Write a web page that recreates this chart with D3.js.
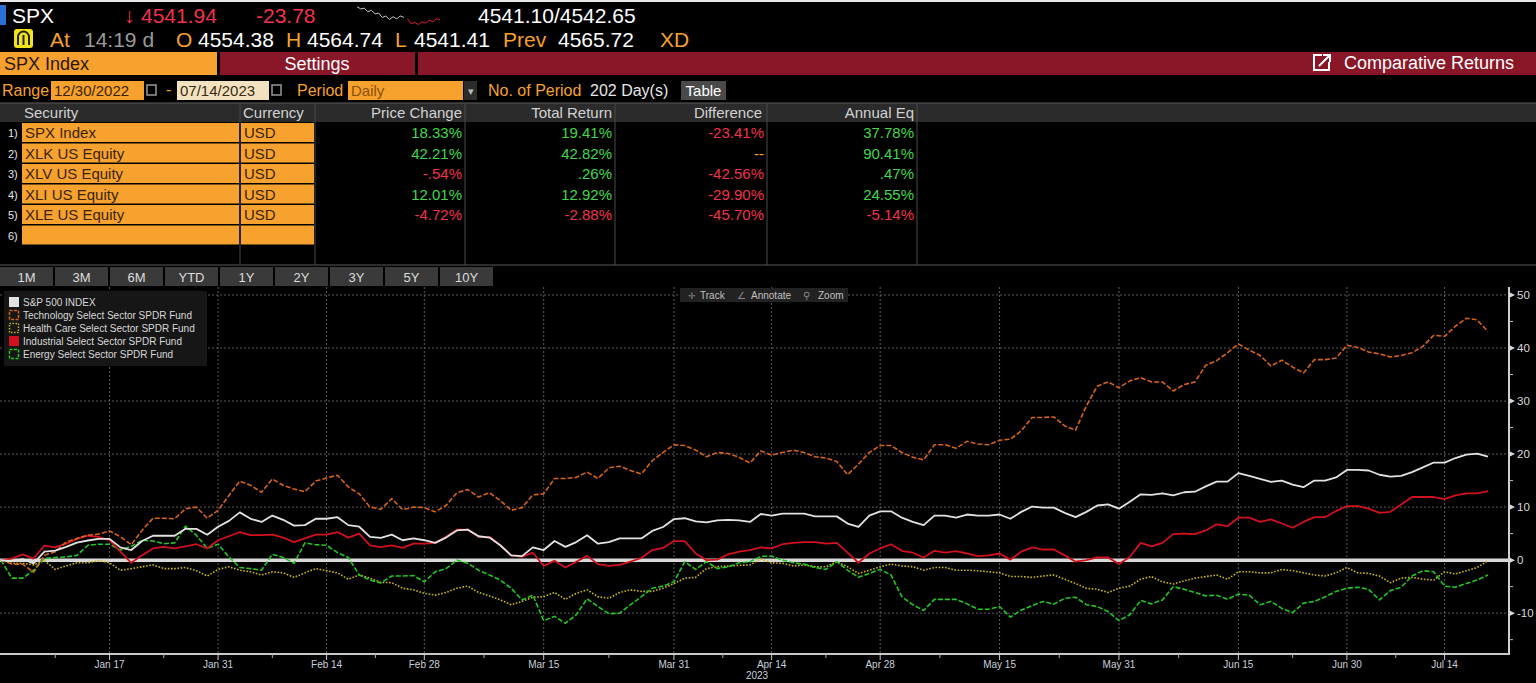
<!DOCTYPE html>
<html>
<head>
<meta charset="utf-8">
<script src="https://cdn.jsdelivr.net/npm/d3@7"></script>
<style>
  body { margin: 0; background: #000; overflow: hidden; }
  svg { display: block; font-family: "Liberation Sans", Arial, sans-serif; }
</style>
</head>
<body>
<svg id="screen" width="1536" height="683"></svg>
<script>
// Table data (Comparative Returns, 12/30/2022 - 07/14/2023)
const tickers = ["SPX Index", "XLK US Equity", "XLV US Equity", "XLI US Equity", "XLE US Equity"];
const currencies = ["USD", "USD", "USD", "USD", "USD"];
const priceChange = ["18.33%", "42.21%", "-.54%", "12.01%", "-4.72%"];
const totalReturn = ["19.41%", "42.82%", ".26%", "12.92%", "-2.88%"];
const difference = ["-23.41%", "--", "-42.56%", "-29.90%", "-45.70%"];
const annualEq = ["37.78%", "90.41%", ".47%", "24.55%", "-5.14%"];
const periodButtons = ["1M", "3M", "6M", "YTD", "1Y", "2Y", "3Y", "5Y", "10Y"];

// Legend names
const seriesNames = [
  "S&P 500 INDEX",
  "Technology Select Sector SPDR Fund",
  "Health Care Select Sector SPDR Fund",
  "Industrial Select Sector SPDR Fund",
  "Energy Select Sector SPDR Fund"
];

// x axis: trading day index of each labelled date
const dateTickLabels = ["Jan 17", "Jan 31", "Feb 14", "Feb 28", "Mar 15", "Mar 31", "Apr 14", "Apr 28", "May 15", "May 31", "Jun 15", "Jun 30", "Jul 14"];
const dateTickDays = [10, 20, 30, 39, 50, 62, 71, 81, 92, 103, 114, 124, 133];
const yTicks = [-10, 0, 10, 20, 30, 40, 50];

// Cumulative return (%) per trading day
const spxReturn = [
  0, -0.2, 0.2, -0.6, 1.6, 1.8, 2.5, 3.3, 3.7, 4.0,
  4.0, 2.4, 1.9, 3.6, 4.6, 4.6, 4.6, 5.9, 5.9, 4.8,
  6.3, 7.4, 9.0, 7.8, 7.2, 8.4, 7.6, 6.5, 6.6, 7.8,
  7.8, 8.1, 6.6, 6.3, 4.4, 4.2, 4.8, 3.75, 4.1, 3.75,
  3.25, 4.25, 5.6, 5.75, 4.5, 4.25, 2.8, 0.9, 0.75, 2.4,
  1.9, 3.6, 2.5, 3.4, 4.7, 3.1, 3.4, 4.1, 4.1, 4.1,
  5.5, 6.25, 7.75, 7.9, 7.3, 7.1, 7.5, 7.6, 7.5, 7.2,
  8.7, 8.4, 8.75, 8.75, 8.75, 8.25, 8.25, 8.25, 6.9, 6.25,
  8.4, 9.2, 9.2, 8.0, 7.2, 6.6, 8.4, 8.4, 8.0, 8.6,
  8.4, 8.4, 8.6, 7.8, 9.1, 10.1, 9.9, 9.9, 8.9, 8.1,
  9.1, 10.3, 10.5, 9.7, 11.0, 12.4, 12.3, 12.6, 12.2, 12.8,
  12.9, 13.9, 14.8, 14.8, 16.4, 15.9, 15.3, 14.75, 15.0, 14.25,
  13.75, 15.0, 15.0, 15.6, 17.0, 17.0, 16.9, 16.1, 15.75, 15.9,
  16.6, 17.5, 18.4, 18.4, 19.25, 19.9, 20.1, 19.5
];
const xlkReturn = [
  0, -0.75, -0.75, -2.3, 0.9, 1.6, 3.4, 4.1, 4.7, 4.9,
  5.5, 4.4, 2.9, 5.6, 7.9, 7.9, 7.8, 9.7, 10.0, 7.9,
  9.4, 12.2, 14.9, 14.1, 12.8, 15.3, 14.1, 13.4, 12.9, 14.9,
  15.5, 16.0, 13.8, 12.5, 10.0, 9.6, 11.6, 9.5, 10.0, 9.9,
  9.1, 10.3, 12.7, 13.3, 11.9, 12.7, 11.25, 9.4, 9.9, 12.3,
  12.5, 15.4, 15.4, 15.6, 16.6, 15.4, 17.4, 17.7, 16.9, 16.25,
  18.75, 20.3, 21.75, 21.6, 20.75, 19.5, 20.3, 20.1, 19.4, 18.3,
  20.6, 19.8, 20.3, 20.75, 20.3, 19.5, 19.25, 18.6, 16.1, 18.1,
  20.3, 21.6, 21.6, 20.3, 19.4, 18.9, 21.75, 21.75, 21.1, 22.4,
  21.9, 21.75, 22.6, 22.8, 24.4, 26.9, 26.9, 27.0, 25.3, 24.5,
  29.1, 32.8, 33.6, 32.5, 33.8, 34.4, 33.6, 33.6, 31.9, 33.1,
  33.6, 36.75, 37.6, 39.1, 40.75, 39.6, 38.6, 36.6, 37.7, 36.4,
  35.3, 37.8, 37.8, 38.1, 40.5, 40.1, 39.25, 38.9, 38.3, 38.6,
  39.1, 40.3, 42.4, 42.2, 44.1, 45.6, 45.3, 43.1
];
const xlvReturn = [
  0, -0.6, -0.6, -0.9, -0.1, -1.75, -1.1, -0.5, -0.5, -0.1,
  -0.5, -1.9, -1.6, -1.25, -0.9, -1.6, -1.6, -1.4, -2.0, -3.0,
  -1.75, -1.25, -1.9, -2.2, -2.8, -2.2, -2.4, -3.25, -2.4, -1.6,
  -2.0, -2.4, -3.6, -2.8, -3.4, -4.2, -4.25, -5.3, -5.6, -6.25,
  -6.6, -6.1, -5.3, -4.9, -6.1, -6.75, -7.5, -8.4, -7.8, -7.0,
  -6.9, -6.1, -7.4, -6.25, -5.6, -6.9, -7.2, -6.1, -5.6, -5.9,
  -5.9, -5.3, -4.4, -3.4, -3.25, -1.6, -1.25, -1.1, -1.0, -0.9,
  0.2, -0.5, -0.6, -1.1, -0.9, -1.25, -1.25, -0.3, -1.25, -2.5,
  -1.9, -1.25, -0.75, -1.1, -1.25, -1.9, -1.4, -1.4, -1.9, -1.9,
  -2.0, -2.2, -2.4, -3.1, -3.1, -3.25, -3.0, -2.8, -3.6, -4.4,
  -5.3, -5.5, -6.1, -5.3, -4.9, -3.6, -3.1, -4.1, -4.5, -3.9,
  -3.4, -3.1, -2.8, -3.6, -2.2, -2.2, -2.4, -2.4, -1.75, -2.0,
  -2.4, -2.8, -3.0, -2.4, -1.4, -2.4, -2.5, -3.0, -4.25, -3.4,
  -3.25, -3.6, -3.75, -2.2, -2.6, -2.0, -1.4, -0.1
];
const xliReturn = [
  0, 0.3, 1.1, 0.3, 2.75, 2.4, 3.1, 4.0, 4.6, 4.4,
  3.75, 1.6, -0.5, 0.9, 2.2, 2.5, 2.2, 2.6, 3.0, 2.2,
  3.75, 4.5, 5.3, 4.7, 4.7, 4.8, 4.25, 3.4, 4.1, 4.8,
  4.8, 5.3, 4.25, 5.0, 2.8, 2.45, 2.8, 2.3, 3.1, 3.1,
  3.25, 4.4, 5.75, 5.75, 4.4, 4.4, 2.8, 0.9, 0.6, 1.4,
  -1.1, -0.1, -1.4, -0.3, 0.8, -0.75, -1.1, -0.9, -0.3, 0.4,
  1.9, 2.3, 3.6, 3.6, 1.25, 0, 0.1, 1.1, 1.6, 1.9,
  2.4, 2.2, 3.0, 3.25, 3.4, 3.4, 3.1, 3.25, 1.4, -0.5,
  1.25, 2.2, 3.0, 1.75, 1.4, 0.5, 1.75, 1.4, 1.7, 1.25,
  0.75, 0.9, 1.25, 0.1, 1.6, 2.4, 2.0, 2.0, 0.9, -0.3,
  0, 0.5, 0.5, -0.75, 0.6, 3.25, 2.6, 3.25, 4.9, 5.0,
  4.9, 5.6, 6.75, 6.4, 8.0, 8.0, 7.2, 7.7, 6.9, 6.1,
  7.2, 8.1, 8.1, 9.25, 10.2, 10.2, 9.7, 8.9, 9.1, 10.5,
  11.9, 11.9, 11.9, 11.5, 12.2, 12.6, 12.6, 13.0
];
const xleReturn = [
  0, -3.4, -3.4, -1.9, 0.3, 0.5, 0.6, 0.9, 2.8, 3.0,
  3.0, 1.9, 2.6, 3.75, 3.6, 3.1, 3.25, 6.4, 4.7, 2.2,
  3.0, 0.6, -1.4, -1.6, -1.9, 1.1, 0.5, -0.6, 3.25, 2.9,
  2.8, 1.4, 0.5, -2.8, -3.75, -4.3, -3.0, -3.0, -2.9, -4.1,
  -2.2, -1.6, 0, -0.6, -1.9, -2.8, -3.75, -5.3, -7.5, -6.6,
  -11.4, -10.6, -11.9, -10.3, -7.3, -8.75, -10.1, -10.0, -8.4, -6.9,
  -5.3, -4.9, -4.1, -0.3, -1.75, -0.3, -1.6, -1.25, -0.5, -0.3,
  0.7, 0.75, 0, -0.5, -0.75, -1.4, -1.75, -0.3, -1.9, -3.25,
  -2.5, -1.75, -2.8, -6.9, -8.4, -9.5, -7.4, -7.4, -7.4, -8.25,
  -9.25, -9.25, -8.75, -10.75, -9.4, -8.6, -7.8, -8.3, -7.2, -7.0,
  -8.4, -8.75, -9.7, -11.4, -10.3, -7.6, -8.25, -7.5, -5.0, -5.5,
  -6.1, -6.75, -6.6, -7.4, -6.4, -6.6, -8.4, -7.8, -9.1, -9.9,
  -8.1, -7.8, -6.9, -5.9, -5.3, -5.1, -5.5, -7.5, -5.75, -5.1,
  -3.0, -2.0, -2.2, -4.9, -5.1, -4.4, -3.75, -2.8
];

// intraday sparkline in the quote bar
const sparkPrev = [4566, 4563, 4564, 4559, 4561, 4556, 4557, 4551, 4553, 4548, 4552, 4549, 4553, 4551];
const sparkToday = [4549, 4542, 4544, 4541, 4545, 4543, 4547, 4545, 4549, 4548];

const ORANGE = "#f7a12e";
const DARKRED = "#8a1728";
const GREEN = "#41d84a";
const RED = "#f2334b";

var svg = d3.select("#screen");
svg.append("rect").attr("width", 1536).attr("height", 683).attr("fill", "#000");

// ---------- QUOTE BAR ----------
svg.append("rect").attr("x", 0).attr("y", 0).attr("width", 1536).attr("height", 2).attr("fill", "#e8e8e8");
svg.append("rect").attr("x", 0).attr("y", 5).attr("width", 6).attr("height", 20).attr("fill", "#2a6fd6");

function txt(x, y, s, size, color, anchor) {
  return svg.append("text")
    .attr("x", x).attr("y", y)
    .attr("font-size", size)
    .attr("fill", color)
    .attr("text-anchor", anchor || "start")
    .text(s);
}

txt(12, 23, "SPX", 21, "#fff");
txt(124, 23, "\u2193", 21, RED);
txt(141, 23, "4541.94", 21, RED);
txt(256, 23, "-23.78", 21, RED);
txt(478, 23, "4541.10/4542.65", 21, "#fff");

// sparkline
var sx = d3.scaleLinear().domain([0, sparkPrev.length + sparkToday.length - 1]).range([357, 440]);
var sy = d3.scaleLinear().domain([4539, 4567]).range([26, 6]);
svg.append("path")
  .attr("d", d3.line().x((d, i) => sx(i)).y(d => sy(d))(sparkPrev))
  .attr("fill", "none").attr("stroke", "#c8c8c8").attr("stroke-width", 1);
svg.append("path")
  .attr("d", d3.line().x((d, i) => sx(i + sparkPrev.length)).y(d => sy(d))(sparkToday))
  .attr("fill", "none").attr("stroke", "#e0202a").attr("stroke-width", 1);

// second row
svg.append("rect").attr("x", 14).attr("y", 29).attr("width", 19).attr("height", 19).attr("rx", 3).attr("fill", "#f4e21a");
svg.append("path").attr("d", "M18,45 L18,37 A5.5,5.5 0 0 1 29,37 L29,45").attr("fill", "none").attr("stroke", "#222").attr("stroke-width", 2);
svg.append("line").attr("x1", 23.5).attr("y1", 35).attr("x2", 23.5).attr("y2", 45).attr("stroke", "#222").attr("stroke-width", 2);
txt(50, 47, "At", 21, ORANGE);
txt(84, 47, "14:19 d", 21, "#9a9a9a");
txt(176, 47, "O", 21, ORANGE);
txt(198, 47, "4554.38", 21, "#fff");
txt(286, 47, "H", 21, ORANGE);
txt(307, 47, "4564.74", 21, "#fff");
txt(395, 47, "L", 21, ORANGE);
txt(414, 47, "4541.41", 21, "#fff");
txt(503, 47, "Prev", 21, ORANGE);
txt(558, 47, "4565.72", 21, "#fff");
txt(660, 47, "XD", 21, ORANGE);

// ---------- TITLE BAR ----------
svg.append("rect").attr("x", 0).attr("y", 52).attr("width", 217).attr("height", 23).attr("fill", ORANGE);
txt(4, 70, "SPX Index", 18, "#2a1800");
svg.append("rect").attr("x", 220).attr("y", 52).attr("width", 195).attr("height", 23).attr("fill", DARKRED);
txt(317, 70, "Settings", 18, "#fff", "middle");
svg.append("rect").attr("x", 418).attr("y", 52).attr("width", 1118).attr("height", 23).attr("fill", DARKRED);
svg.append("rect").attr("x", 1314).attr("y", 55).attr("width", 15).attr("height", 15).attr("fill", "none").attr("stroke", "#fff").attr("stroke-width", 2);
svg.append("rect").attr("x", 1322).attr("y", 53).attr("width", 9).attr("height", 9).attr("fill", DARKRED);
svg.append("path").attr("d", "M1319,66 L1329,56 M1323,55 L1330,55 L1330,62").attr("stroke", "#fff").attr("stroke-width", 2).attr("fill", "none");
txt(1344, 69, "Comparative Returns", 18, "#fff");

// ---------- RANGE ROW ----------
txt(2, 96, "Range", 16, ORANGE);
svg.append("rect").attr("x", 51).attr("y", 81).attr("width", 93).attr("height", 19).attr("fill", ORANGE);
txt(54, 96, "12/30/2022", 15, "#3a2400");
svg.append("rect").attr("x", 147).attr("y", 85).attr("width", 9).attr("height", 10).attr("fill", "none").attr("stroke", "#999").attr("stroke-width", 1.5);
txt(166, 95, "-", 16, ORANGE);
svg.append("rect").attr("x", 177).attr("y", 81).attr("width", 92).attr("height", 19).attr("fill", "#f2e2c0");
txt(180, 96, "07/14/2023", 15, "#3a2a10");
svg.append("rect").attr("x", 272).attr("y", 85).attr("width", 9).attr("height", 10).attr("fill", "none").attr("stroke", "#999").attr("stroke-width", 1.5);
txt(297, 96, "Period", 16, ORANGE);
svg.append("rect").attr("x", 348).attr("y", 81).attr("width", 115).attr("height", 19).attr("fill", ORANGE);
txt(351, 96, "Daily", 15, "#8a5000");
svg.append("rect").attr("x", 464).attr("y", 81).attr("width", 13).attr("height", 19).attr("fill", "#2c2c2c");
txt(470.5, 95, "\u25BE", 11, "#bbb", "middle");
txt(488, 96, "No. of Period", 16, ORANGE);
txt(590, 96, "202 Day(s)", 16, "#e6e6e6");
svg.append("rect").attr("x", 681).attr("y", 81).attr("width", 45).attr("height", 19).attr("fill", "#4a4a4a");
txt(703.5, 96, "Table", 15, "#fff", "middle");

// ---------- TABLE ----------
var colEdges = [315, 465, 615, 767, 917];
var tableTop = 103, headerH = 19, rowH = 20.5, tableBottom = 265;

svg.append("rect").attr("x", 0).attr("y", tableTop).attr("width", 1536).attr("height", headerH).attr("fill", "#2b2b2b");
svg.append("line").attr("x1", 0).attr("x2", 1536).attr("y1", tableTop).attr("y2", tableTop).attr("stroke", "#5a5a5a");
svg.append("line").attr("x1", 0).attr("x2", 1536).attr("y1", tableBottom).attr("y2", tableBottom).attr("stroke", "#5a5a5a");

[240].concat(colEdges).forEach(cx => {
  svg.append("line").attr("x1", cx).attr("x2", cx).attr("y1", tableTop).attr("y2", tableBottom)
    .attr("stroke", "#4a4a4a");
});

var headerY = tableTop + 15;
txt(24, headerY, "Security", 15, "#d2d2d2");
txt(243, headerY, "Currency", 15, "#d2d2d2");
txt(462, headerY, "Price Change", 15, "#d2d2d2", "end");
txt(612, headerY, "Total Return", 15, "#d2d2d2", "end");
txt(762, headerY, "Difference", 15, "#d2d2d2", "end");
txt(914, headerY, "Annual Eq", 15, "#d2d2d2", "end");

function valueColor(s) {
  if (s === "--") return ORANGE;
  return s.charAt(0) === "-" ? RED : GREEN;
}

for (let r = 0; r < 6; r++) {
  let rowTop = tableTop + headerH + 1 + r * rowH;
  let base = rowTop + 15;
  svg.append("rect").attr("x", 22).attr("y", rowTop).attr("width", 217).attr("height", rowH - 1.5).attr("fill", ORANGE);
  svg.append("rect").attr("x", 241).attr("y", rowTop).attr("width", 73).attr("height", rowH - 1.5).attr("fill", ORANGE);
  txt(8, base - 1, (r + 1) + ")", 11, "#e6e6e6");
  if (r < tickers.length) {
    txt(25, base, tickers[r], 15, "#3a2400");
    txt(244, base, currencies[r], 15, "#3a2400");
    [priceChange[r], totalReturn[r], difference[r], annualEq[r]].forEach((v, c) => {
      txt(colEdges[c + 1] - 3, base, v, 15, valueColor(v), "end");
    });
  }
}

// period buttons
periodButtons.forEach((b, i) => {
  var bx = i * 55;
  svg.append("rect").attr("x", bx).attr("y", 267).attr("width", 53).attr("height", 19).attr("fill", "#3a3a3a");
  txt(bx + 26.5, 282, b, 13, "#dcdcdc", "middle");
});

// ---------- CHART ----------
var chartTop = 287, chartBottom = 654, axisX = 1509;
var dayCount = spxReturn.length;

var x = d3.scaleLinear().domain([0, dayCount - 1]).range([1, 1488]);
var y = d3.scaleLinear().domain([-17.7, 51.5]).range([chartBottom, chartTop]);

var chart = svg.append("g");

// horizontal grid
chart.selectAll(".hgrid")
  .data(yTicks.filter(d => d !== 0))
  .enter().append("line")
  .attr("x1", 0).attr("x2", axisX)
  .attr("y1", d => y(d)).attr("y2", d => y(d))
  .attr("stroke", "#5c5c5c").attr("stroke-width", 1).attr("stroke-dasharray", "2,2");

// vertical grid
chart.selectAll(".vgrid")
  .data(dateTickDays)
  .enter().append("line")
  .attr("x1", d => x(d)).attr("x2", d => x(d))
  .attr("y1", chartTop).attr("y2", chartBottom)
  .attr("stroke", "#5c5c5c").attr("stroke-width", 1).attr("stroke-dasharray", "2,2");

// zero line
chart.append("line")
  .attr("x1", 0).attr("x2", axisX)
  .attr("y1", y(0)).attr("y2", y(0))
  .attr("stroke", "#d8d8d8").attr("stroke-width", 3.5);

// series lines (drawn back to front)
var series = [
  { values: xlvReturn, color: "#c9b515", dash: "1.6,1.6", width: 1.6 },
  { values: xleReturn, color: "#23c623", dash: "5,2", width: 1.6 },
  { values: xliReturn, color: "#d1111d", dash: null, width: 1.8 },
  { values: xlkReturn, color: "#d4631c", dash: "5,2", width: 1.6 },
  { values: spxReturn, color: "#e2e2e2", dash: null, width: 1.8 }
];

var line = d3.line().x((d, i) => x(i)).y(d => y(d));

series.forEach(s => {
  chart.append("path")
    .attr("d", line(s.values))
    .attr("fill", "none")
    .attr("stroke", s.color)
    .attr("stroke-width", s.width)
    .attr("stroke-dasharray", s.dash)
    .attr("stroke-linejoin", "round");
});

// y axis on the right
chart.append("line").attr("x1", axisX).attr("x2", axisX).attr("y1", chartTop).attr("y2", chartBottom + 1)
  .attr("stroke", "#d0d0d0").attr("stroke-width", 2);
var minorY = d3.range(-15, 51, 5).filter(v => v % 10 !== 0);
chart.selectAll(".ymin").data(minorY).enter().append("line")
  .attr("x1", axisX).attr("x2", axisX + 4)
  .attr("y1", d => y(d)).attr("y2", d => y(d))
  .attr("stroke", "#bbb");
chart.selectAll(".ymaj").data(yTicks).enter().append("path")
  .attr("d", d => `M${axisX},${y(d) - 3} L${axisX + 6},${y(d)} L${axisX},${y(d) + 3} Z`)
  .attr("fill", "#d8d8d8");
chart.selectAll(".ylab").data(yTicks).enter().append("text")
  .attr("x", axisX + 8).attr("y", d => y(d) + 4)
  .attr("font-size", 11.5).attr("fill", "#dcdcdc")
  .text(d => d);

// x axis at bottom
chart.append("line").attr("x1", 0).attr("x2", axisX).attr("y1", chartBottom).attr("y2", chartBottom)
  .attr("stroke", "#c8c8c8").attr("stroke-width", 2);
var minorX = dateTickDays.slice(0, -1).map((d, i) => (d + dateTickDays[i + 1]) / 2);
minorX.unshift(dateTickDays[0] / 2);
chart.selectAll(".xmin").data(minorX).enter().append("line")
  .attr("x1", d => x(d)).attr("x2", d => x(d))
  .attr("y1", chartBottom).attr("y2", chartBottom + 4)
  .attr("stroke", "#aaa");
chart.selectAll(".xmaj").data(dateTickDays).enter().append("line")
  .attr("x1", d => x(d)).attr("x2", d => x(d))
  .attr("y1", chartBottom).attr("y2", chartBottom + 6)
  .attr("stroke", "#ccc");
chart.selectAll(".xlab").data(dateTickDays).enter().append("text")
  .attr("x", d => x(d)).attr("y", chartBottom + 14)
  .attr("text-anchor", "middle")
  .attr("font-size", 10).attr("fill", "#c8d0dc")
  .text((d, i) => dateTickLabels[i]);
txt(757, 679, "2023", 10, "#c8d0dc", "middle");

// toolbar
svg.append("rect").attr("x", 680).attr("y", 288).attr("width", 168).attr("height", 14).attr("fill", "#222");
txt(688, 299, "\u271B", 9, "#888");
txt(700, 299, "Track", 10, "#c0c0c0");
txt(737, 299, "\u2220", 10, "#888");
txt(751, 299, "Annotate", 10, "#c0c0c0");
txt(803, 299, "\u26B2", 10, "#888");
txt(818, 299, "Zoom", 10, "#c0c0c0");

// legend
var legendColors = ["#e2e2e2", "#d4631c", "#c9b515", "#d1111d", "#23c623"];
var legendFill = [true, false, false, true, false];
var legendDash = [null, "3,1.5", "1.5,1.5", null, "3,1.5"];
var legend = svg.append("g").attr("transform", "translate(4,291)");
legend.append("rect").attr("width", 203).attr("height", 75).attr("fill", "#161616");
seriesNames.forEach((name, i) => {
  var ly = 11 + i * 13;
  if (legendFill[i]) {
    legend.append("rect").attr("x", 5).attr("y", ly - 5).attr("width", 10).attr("height", 10).attr("fill", legendColors[i]);
  } else {
    legend.append("rect").attr("x", 5.5).attr("y", ly - 4.5).attr("width", 9).attr("height", 9)
      .attr("fill", "none").attr("stroke", legendColors[i]).attr("stroke-width", 1.5)
      .attr("stroke-dasharray", legendDash[i]);
  }
  legend.append("text").attr("x", 19).attr("y", ly + 4)
    .attr("font-size", 10).attr("fill", "#d8d8d8").text(name);
});
</script>
</body>
</html>
